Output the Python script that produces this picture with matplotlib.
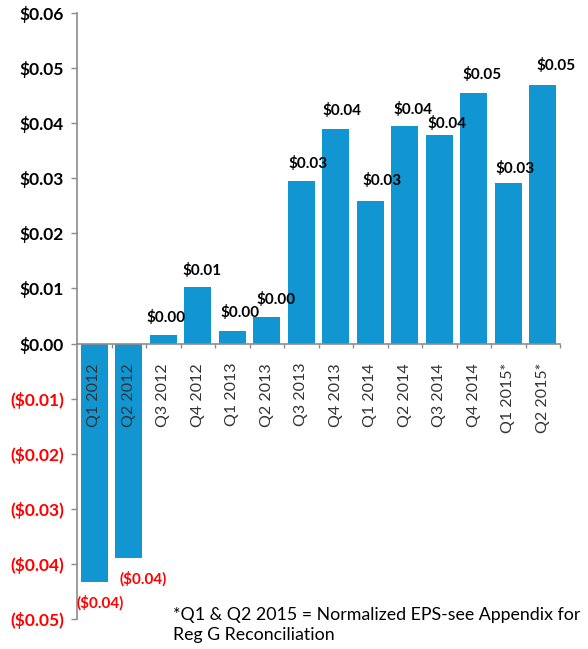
import matplotlib
matplotlib.use("Agg")
import matplotlib.pyplot as plt
from matplotlib.ticker import FixedLocator, FuncFormatter

quarters = ["Q1 2012", "Q2 2012", "Q3 2012", "Q4 2012", "Q1 2013", "Q2 2013",
            "Q3 2013", "Q4 2013", "Q1 2014", "Q2 2014", "Q3 2014", "Q4 2014",
            "Q1 2015*", "Q2 2015*"]
eps = [-0.0433, -0.0390, 0.0015, 0.0102, 0.0022, 0.0049,
       0.0295, 0.0390, 0.0259, 0.0394, 0.0378, 0.0455,
       0.0291, 0.0470]
y_ticks = [-0.05, -0.04, -0.03, -0.02, -0.01, 0.00, 0.01, 0.02, 0.03, 0.04, 0.05, 0.06]
footnote = "*Q1 & Q2 2015 = Normalized EPS-see Appendix for\nReg G Reconciliation"

# label offsets in pixels (style)
label_dx = [6, 14, 3, 4, 8, 9, 7, 6, 12, 8, 8, 8, 7, 13]
label_dy = [-21, -20, 18, 17, 19, 17, 18, 18, 20, 17, 12, 18, 15, 19]

plt.rcParams['font.family'] = ['Lato', 'DejaVu Sans']

fig = plt.figure(figsize=(5.88, 6.49), dpi=100)
ax = fig.add_axes([77/588, 1-619/649, (560-77)/588, (619-13)/649])

bar_color = "#1296D2"
x = list(range(len(quarters)))
bars = ax.bar(x, eps, width=0.78, color=bar_color, zorder=1)

ax.set_xlim(-0.5, len(quarters) - 0.5)
ax.set_ylim(-0.05, 0.06)

def fmt_money(v, pos=None):
    r = round(v, 2)
    if r < 0:
        return "(${:.2f})".format(abs(r))
    return "${:.2f}".format(abs(r))

# spines
for s in ["top", "right"]:
    ax.spines[s].set_visible(False)
ax.spines["bottom"].set_position(("data", 0))
ax.spines["left"].set_color("#8c8c8c")
ax.spines["bottom"].set_color("#8c8c8c")
ax.spines["left"].set_linewidth(1.2)
ax.spines["bottom"].set_linewidth(1.2)

# y axis
ax.yaxis.set_major_locator(FixedLocator(y_ticks))
ax.yaxis.set_major_formatter(FuncFormatter(fmt_money))
ax.tick_params(axis="y", direction="out", length=4.5, width=1, color="#8c8c8c",
               pad=5, labelsize=12.5)
for lbl, v in zip(ax.get_yticklabels(), y_ticks):
    lbl.set_fontweight("bold")
    lbl.set_color("#ff0000" if v < 0 else "#000000")

# x axis
ax.set_xticks(x)
ax.set_xticklabels(quarters, rotation=90, va="top", ha="center", fontsize=11.5,
                   color="#333333")
ax.tick_params(axis="x", which="major", length=0, pad=14)
ax.set_xticks([i + 0.5 for i in x], minor=True)
ax.tick_params(axis="x", which="minor", direction="out", length=3, width=1,
               color="#8c8c8c")

# data labels
for xi, v, dx, dy in zip(x, eps, label_dx, label_dy):
    ax.annotate(fmt_money(v), xy=(xi, v), xytext=(dx, dy), textcoords="offset pixels",
                ha="center", va="center", fontsize=11, fontweight="bold",
                color="#ff0000" if v < 0 else "#000000", zorder=3)

fig.text(173/588, 1-607/649, footnote, ha="left", va="top", fontsize=12.8,
         color="#000000", linespacing=1.3)

fig.savefig("out.png", dpi=100)
